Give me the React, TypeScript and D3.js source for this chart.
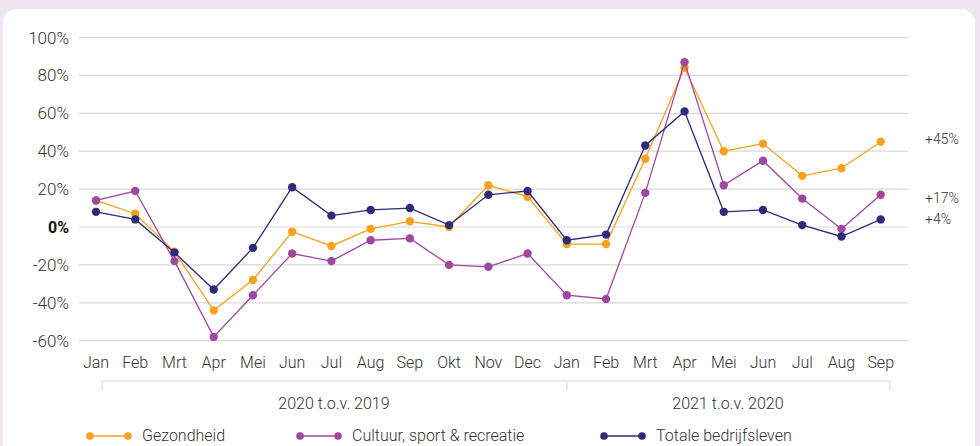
import { useRef, useEffect } from "react";
import * as d3 from "d3";

const months = [
  "Jan", "Feb", "Mrt", "Apr", "Mei", "Jun", "Jul", "Aug", "Sep", "Okt", "Nov", "Dec",
  "Jan", "Feb", "Mrt", "Apr", "Mei", "Jun", "Jul", "Aug", "Sep",
];
const gezondheid = [14, 7, -13, -44, -28, -2.5, -10, -1, 3, 0, 22, 16, -9, -9, 36, 84, 40, 44, 27, 31, 45];
const cultuur = [14, 19, -18, -58, -36, -14, -18, -7, -6, -20, -21, -14, -36, -38, 18, 87, 22, 35, 15, -1, 17];
const totaal = [8, 4, -13.5, -33, -11, 21, 6, 9, 10, 1, 17, 19, -7, -4, 43, 61, 8, 9, 1, -5, 4];
const yTicks = [100, 80, 60, 40, 20, 0, -20, -40, -60];
const groups = ["2020 t.o.v. 2019", "2021 t.o.v. 2020"];
const endLabels = ["+45%", "+17%", "+4%"];

const series = [
  { name: "Gezondheid", values: gezondheid, color: "#f7a11c" },
  { name: "Cultuur, sport & recreatie", values: cultuur, color: "#a0479f" },
  { name: "Totale bedrijfsleven", values: totaal, color: "#2e2a7c" },
];

const W = 980;
const H = 446;
const FONT = "Roboto, 'Noto Sans', sans-serif";

export default function App() {
  const ref = useRef<SVGSVGElement | null>(null);

  useEffect(() => {
    const svg = d3.select(ref.current);
    svg.selectAll("*").remove();

    // achtergrond + kaart
    svg.append("rect").attr("width", W).attr("height", H).attr("fill", "#efe4f2");
    svg.append("rect")
      .attr("x", 3).attr("y", 9).attr("width", 972).attr("height", H + 20)
      .attr("rx", 14).attr("fill", "#ffffff");

    const x = d3.scalePoint<number>().domain(d3.range(months.length)).range([96, 880.7]);
    const y = d3.scaleLinear().domain([-60, 100]).range([340.7, 37.5]);

    // grid
    const grid = svg.append("g");
    grid.selectAll("line").data(yTicks).enter().append("line")
      .attr("x1", 79).attr("x2", 908)
      .attr("y1", (d) => y(d)).attr("y2", (d) => y(d))
      .attr("stroke", "#d9d9d9").attr("stroke-width", 1.2);

    grid.selectAll("text").data(yTicks).enter().append("text")
      .attr("x", 69).attr("y", (d) => y(d) + 6)
      .attr("text-anchor", "end")
      .style("font-family", FONT)
      .style("font-size", (d) => (d === 0 ? "16px" : "17px"))
      .style("font-weight", (d) => (d === 0 ? 700 : 300))
      .attr("fill", (d) => (d === 0 ? "#111" : "#333"))
      .text((d) => `${d}%`);

    // maanden
    svg.append("g").selectAll("text").data(months).enter().append("text")
      .attr("x", (_, i) => x(i)!).attr("y", 368)
      .attr("text-anchor", "middle")
      .style("font-family", FONT).style("font-size", "16px").style("font-weight", 300)
      .attr("fill", "#333")
      .text((d) => d);

    // groepshaak
    const br = svg.append("g").attr("stroke", "#d9d9d9").attr("stroke-width", 1.2);
    br.append("line").attr("x1", 102).attr("x2", 890).attr("y1", 381).attr("y2", 381);
    [102, x(12)!, 890].forEach((px) => {
      br.append("line").attr("x1", px).attr("x2", px).attr("y1", 381).attr("y2", 390);
    });
    const gx = [334, 728];
    groups.forEach((g, i) => {
      svg.append("text")
        .attr("x", gx[i]).attr("y", 408.5)
        .attr("text-anchor", "middle")
        .style("font-family", FONT).style("font-size", "16px").style("font-weight", 300)
        .attr("fill", "#333")
        .text(g);
    });

    // lijnen
    const line = d3.line<number>().x((_, i) => x(i)!).y((d) => y(d));
    series.forEach((s) => {
      const g = svg.append("g");
      g.append("path").datum(s.values).attr("d", line)
        .attr("fill", "none").attr("stroke", s.color).attr("stroke-width", 1.3);
      g.selectAll("circle").data(s.values).enter().append("circle")
        .attr("cx", (_, i) => x(i)!).attr("cy", (d) => y(d))
        .attr("r", 4.2).attr("fill", s.color);
    });

    // eindlabels
    const endY = [139, 197.5, 219];
    endLabels.forEach((t, i) => {
      svg.append("text")
        .attr("x", 925).attr("y", endY[i] + 5)
        .style("font-family", FONT).style("font-size", "14px").style("font-weight", 300)
        .attr("fill", "#333")
        .text(t);
    });

    // legenda
    const legX = [90, 300, 604];
    series.forEach((s, i) => {
      const g = svg.append("g").attr("transform", `translate(${legX[i]},436)`);
      g.append("line").attr("x1", 0).attr("x2", 38).attr("y1", 0).attr("y2", 0)
        .attr("stroke", s.color).attr("stroke-width", 1.3);
      g.append("circle").attr("cx", 0).attr("cy", 0).attr("r", 3.8).attr("fill", s.color);
      g.append("circle").attr("cx", 38).attr("cy", 0).attr("r", 3.8).attr("fill", s.color);
      g.append("text").attr("x", 52).attr("y", 5)
        .style("font-family", FONT).style("font-size", "16px").style("font-weight", 300)
        .attr("fill", "#333")
        .text(s.name);
    });
  }, []);

  return (
    <svg
      ref={ref}
      width={W}
      height={H}
      style={{ position: "absolute", left: 0, top: 0 }}
    ></svg>
  );
}
